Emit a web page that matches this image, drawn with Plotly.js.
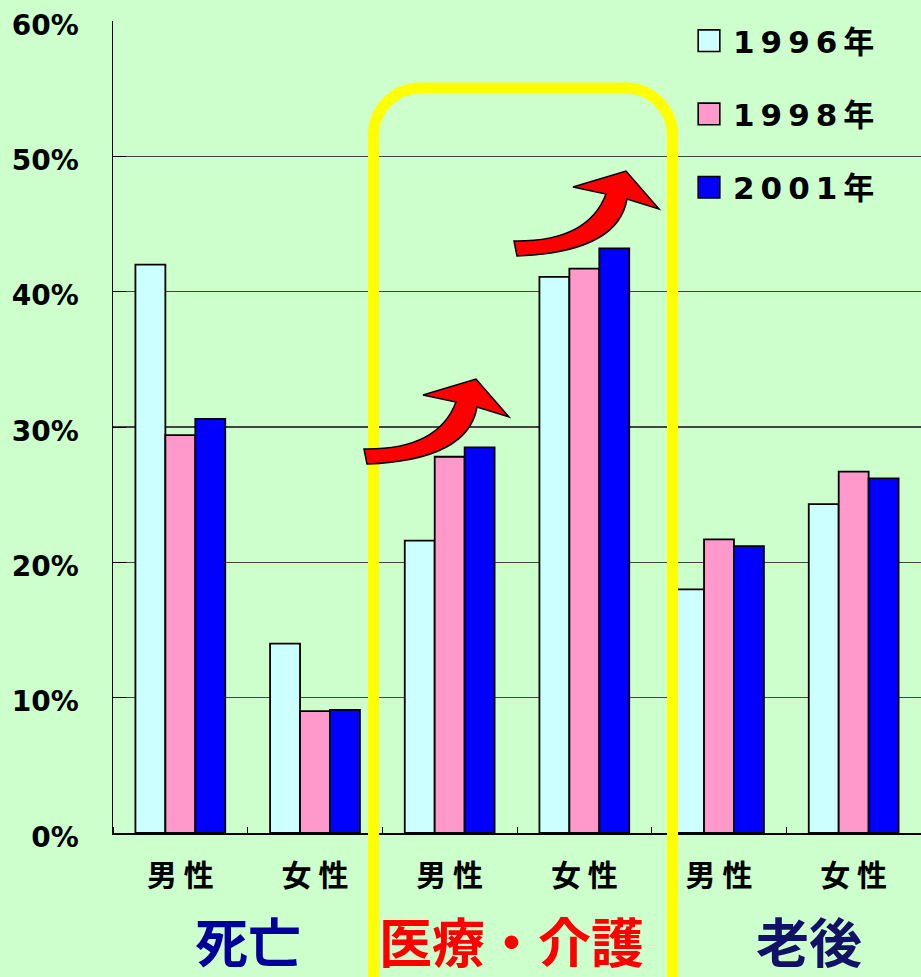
<!DOCTYPE html>
<html>
<head>
<meta charset="utf-8">
<script src="https://cdn.plot.ly/plotly-3.0.1.min.js"></script>
<style>
  html, body { margin: 0; padding: 0; background: #CCFFCC; }
  #chart { width: 921px; height: 977px; }
  .legendtext { letter-spacing: 6px; }
</style>
</head>
<body>
<div id="chart"></div>
<script>
// ---- data ----
const categories = ['男 性', '女 性', '男 性', '女 性', '男 性', '女 性'];
const groups = ['死亡', '医療・介護', '老後'];
const seriesNames = ['1996年', '1998年', '2001年'];
const y1996 = [42.0, 14.0, 21.6, 41.1, 18.0, 24.3];
const y1998 = [29.4, 9.0, 27.8, 41.7, 21.7, 26.7];
const y2001 = [30.6, 9.1, 28.5, 43.2, 21.2, 26.2];
const yTicks = [0, 10, 20, 30, 40, 50, 60];

// ---- styling ----
const BG = '#CCFFCC';
const colors = ['#CCFFFF', '#FF99CC', '#0000FF'];
const groupColors = ['#000099', '#FF0000', '#111166'];
const idx = categories.map((_, i) => i);

// plot area in pixels (for paper-coordinate decorations)
const L = 113, T = 21, W = 808, H = 812, B = T + H;
const px = x => (x - L) / W;
const py = y => (B - y) / H;

const traces = [y1996, y1998, y2001].map((vals, k) => ({
  type: 'bar',
  x: idx,
  y: vals,
  name: seriesNames[k],
  legendgroup: 'g' + k,
  marker: { color: colors[k], line: { color: '#000', width: 1.8 } },
  hoverinfo: 'skip'
}));

// yellow rounded frame (center line, pixels)
const fx0 = 373.5, fx1 = 672.5, fyt = 88, r = 47, kap = 0.5523;
const framePath =
  `M${px(fx0)},${py(1100)} L${px(fx0)},${py(fyt + r)} ` +
  `C${px(fx0)},${py(fyt + r - r * kap)} ${px(fx0 + r - r * kap)},${py(fyt)} ${px(fx0 + r)},${py(fyt)} ` +
  `L${px(fx1 - r)},${py(fyt)} ` +
  `C${px(fx1 - r + r * kap)},${py(fyt)} ${px(fx1)},${py(fyt + r - r * kap)} ${px(fx1)},${py(fyt + r)} ` +
  `L${px(fx1)},${py(1100)}`;

// curved arrow outline (pixels), second arrow is shifted copy
function arrowPath(dx, dy) {
  const p = (x, y) => `${px(x + dx)},${py(y + dy)}`;
  return `M${p(364, 449)} Q${p(438, 450)} ${p(456, 402)} L${p(423, 395)} L${p(476, 379)} ` +
         `L${p(509, 417)} L${p(477, 407)} Q${p(468, 460)} ${p(367, 464)} Z`;
}

const shapes = [
  { type: 'rect', xref: 'paper', yref: 'paper', x0: px(647), x1: 1.02, y0: py(240), y1: 1.05,
    fillcolor: BG, line: { width: 0 }, layer: 'between' },
  { type: 'path', xref: 'paper', yref: 'paper', path: framePath,
    line: { color: '#FFFF00', width: 11 }, layer: 'above' },
  { type: 'path', xref: 'paper', yref: 'paper', path: arrowPath(0, 0),
    fillcolor: '#FF0000', line: { color: '#000', width: 1.5 }, layer: 'above' },
  { type: 'path', xref: 'paper', yref: 'paper', path: arrowPath(150, -208),
    fillcolor: '#FF0000', line: { color: '#000', width: 1.5 }, layer: 'above' }
];

const groupX = [0.5, 2.5, 4.5];
const groupShift = [0, -6, 23];
const annotations = groups.map((g, i) => ({
  text: g, x: groupX[i], xref: 'x', y: py(940), yref: 'paper',
  xanchor: 'center', yanchor: 'middle', xshift: groupShift[i], showarrow: false,
  font: { family: 'Noto Sans CJK JP', size: 53, color: groupColors[i], weight: 'bold' }
}));

const layout = {
  width: 921, height: 977,
  margin: { l: L, r: 0, t: T, b: 977 - B, pad: 0 },
  paper_bgcolor: BG, plot_bgcolor: BG,
  barmode: 'group', bargap: 0.333, bargroupgap: 0,
  showlegend: true,
  legend: {
    x: px(693), xanchor: 'left', y: py(14), yanchor: 'top',
    bgcolor: 'rgba(0,0,0,0)', borderwidth: 0,
    tracegroupgap: 30, traceorder: 'grouped',
    font: { family: 'DejaVu Sans, Noto Sans CJK JP', size: 31, color: '#000', weight: 'bold' }
  },
  xaxis: {
    range: [-0.5, 5.5], tickmode: 'array', tickvals: idx, ticktext: categories,
    ticks: '', showgrid: false, zeroline: false,
    showline: true, linecolor: '#000', linewidth: 1.5,
    ticklabelstandoff: 15,
    minor: { tick0: 0.5, dtick: 1, ticks: 'inside', ticklen: 6, tickcolor: '#000', tickwidth: 1, showgrid: false },
    tickfont: { family: 'Noto Sans CJK JP', size: 30, color: '#000', weight: 'bold' }
  },
  yaxis: {
    range: [0, 60], tickmode: 'array', tickvals: yTicks, ticktext: yTicks.map(v => v + '%'),
    ticks: 'inside', ticklen: 13, tickcolor: '#000',
    showgrid: true, gridcolor: '#444', gridwidth: 1.2, zeroline: false,
    showline: true, linecolor: '#000', linewidth: 1.5,
    ticklabelstandoff: 27, ticklabelshift: 4,
    tickfont: { family: 'DejaVu Sans', size: 28, color: '#000', weight: 'bold' }
  },
  shapes: shapes,
  annotations: annotations
};

Plotly.newPlot('chart', traces, layout, { staticPlot: true, displayModeBar: false }).then(() => {
  document.querySelectorAll('.legendpoints path').forEach(p => {
    const t = p.getAttribute('transform') || '';
    p.setAttribute('transform', 'translate(-4,0) ' + t + ' scale(1.8)');
    p.style.strokeWidth = '0.9px';
  });
});
</script>
</body>
</html>
